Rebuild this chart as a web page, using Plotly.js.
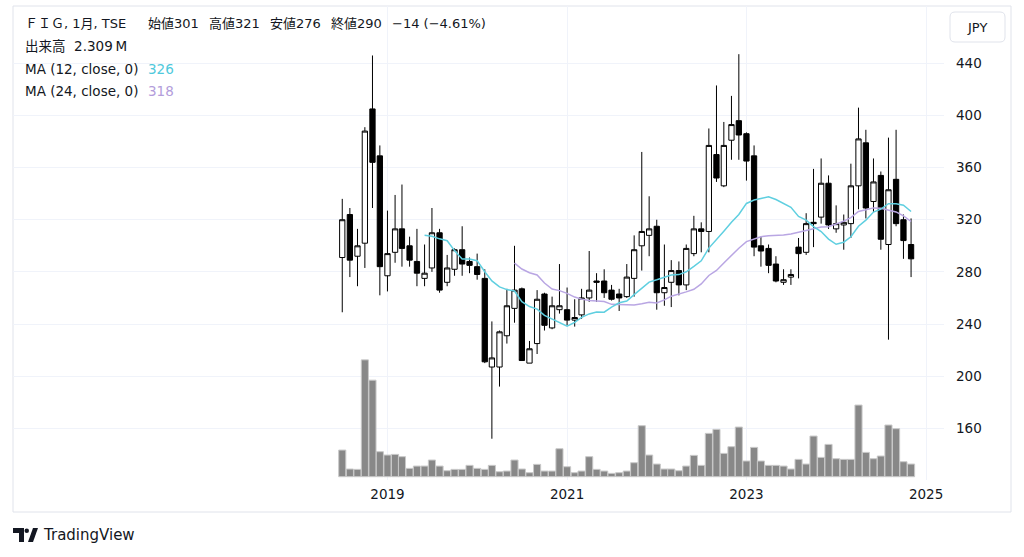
<!DOCTYPE html>
<html><head><meta charset="utf-8">
<script src="https://cdn.plot.ly/plotly-3.0.1.min.js"></script>
<style>html,body{margin:0;padding:0;background:#fff;}#chart{width:1024px;height:557px;}</style>
</head><body><div id="chart"></div>
<script>
// ---- data (monthly, FIG / TSE) ----
const months = ['2018-07','2018-08','2018-09','2018-10','2018-11','2018-12',
 '2019-01','2019-02','2019-03','2019-04','2019-05','2019-06','2019-07','2019-08','2019-09','2019-10','2019-11','2019-12',
 '2020-01','2020-02','2020-03','2020-04','2020-05','2020-06','2020-07','2020-08','2020-09','2020-10','2020-11','2020-12',
 '2021-01','2021-02','2021-03','2021-04','2021-05','2021-06','2021-07','2021-08','2021-09','2021-10','2021-11','2021-12',
 '2022-01','2022-02','2022-03','2022-04','2022-05','2022-06','2022-07','2022-08','2022-09','2022-10','2022-11','2022-12',
 '2023-01','2023-02','2023-03','2023-04','2023-05','2023-06','2023-07','2023-08','2023-09','2023-10','2023-11','2023-12',
 '2024-01','2024-02','2024-03','2024-04','2024-05','2024-06','2024-07','2024-08','2024-09','2024-10','2024-11'];
const opens  = [291,324,292,302,405,369, 277,295,313,300,288,275,283,310,272,282,297,288,
 284,275,207,207,231,252,267,210,225,263,237,251, 251,243,247,260,273,273,266,263,261,275,300,308,
 315,264,272,281,270,294,313,311,370,346,381,396, 386,369,300,298,286,272,276,299,295,318,322,348,
 313,316,317,346,379,334,354,301,351,320,301];
const highs  = [336,329,313,391,446,377, 327,339,347,307,313,301,329,313,293,298,315,291,
 294,282,242,235,267,300,268,227,266,264,261,286, 268,259,267,296,279,282,270,267,286,308,372,338,
 320,301,289,288,301,323,318,390,423,395,415,447, 387,377,307,301,292,282,282,306,325,359,367,354,
 331,324,363,406,389,367,357,383,389,324,321];
const lows   = [249,276,269,283,329,262, 265,287,284,284,269,269,280,264,269,277,277,279,
 274,210,152,192,225,241,212,210,217,235,236,248, 239,238,244,257,257,260,258,250,260,261,281,292,
 251,254,253,262,266,292,295,295,349,345,366,366, 350,292,284,279,272,270,270,275,293,299,317,313,
 310,297,306,328,321,326,297,228,315,290,276];
const closes = [320,289,300,388,364,284, 294,313,298,289,279,279,310,266,283,297,286,285,
 278,211,214,234,254,266,212,221,259,239,254,254, 243,245,260,266,272,264,259,260,276,297,311,313,
 264,268,281,270,298,313,311,377,352,377,393,385, 365,299,296,285,273,274,278,294,317,317,348,316,
 317,318,346,382,329,349,305,343,317,304,290];
const volumesM = [4.86,1.40,1.34,21.3,17.6,4.56, 3.95,4.07,3.65,1.52,1.94,1.94,3.04,1.94,1.09,1.34,1.34,2.07,
 1.52,1.34,2.07,0.91,1.03,3.04,1.40,0.73,2.25,1.03,1.03,5.10, 1.82,0.73,1.03,3.65,1.34,1.03,0.61,0.73,1.03,2.55,9.30,3.95,
 2.31,1.40,1.40,1.09,1.94,3.89,2.07,7.90,8.63,4.25,5.47,9.05, 2.86,5.35,2.86,2.07,2.07,1.94,1.40,3.16,2.31,7.41,3.52,5.89,
 3.28,3.16,3.16,13.06,4.43,3.28,3.77,9.42,8.75,2.73,2.309];
const priceTicks = [160,200,240,280,320,360,400,440];
const yearTicks = ['2019-01-01','2021-01-01','2023-01-01','2025-01-01'];
const yearLabels = ['2019','2021','2023','2025'];

// moving averages of the close
function sma(arr, n){ return arr.map((v,i)=> i<n-1 ? null : arr.slice(i-n+1,i+1).reduce((a,b)=>a+b,0)/n); }
const ma12 = sma(closes,12), ma24 = sma(closes,24);

// ---- layout geometry (pixels) ----
const L=13, R=944, T=6, B=480;
const px = x => (x-L)/(R-L);
const py = y => (B-y)/(B-T);
const FONT = '"DejaVu Sans", "Noto Sans CJK JP", sans-serif';
const FS = 13.5;
const TXT = '#131722';

const traces = [
 { type:'bar', x: months, y: volumesM, yaxis:'y2', width: months.map(()=>29*86400000),
   marker:{color:'#888888', line:{color:'#c9c9c9', width:1}}, hoverinfo:'skip', showlegend:false },
 { type:'candlestick', x: months, open: opens, high: highs, low: lows, close: closes,
   increasing:{line:{color:'#000000', width:1}, fillcolor:'#ffffff'},
   decreasing:{line:{color:'#000000', width:1}, fillcolor:'#000000'},
   whiskerwidth:0, hoverinfo:'skip', showlegend:false },
 { type:'scatter', mode:'lines', x: months, y: ma24, line:{color:'#b9a6e3', width:1.5}, hoverinfo:'skip', showlegend:false },
 { type:'scatter', mode:'lines', x: months, y: ma12, line:{color:'#5fcfe0', width:1.5}, hoverinfo:'skip', showlegend:false }
];

function ann(x, y, text, extra){
  return Object.assign({xref:'paper', yref:'paper', x:px(x), y:py(y), xanchor:'left', yanchor:'middle',
    text:text, showarrow:false, font:{family:FONT, size:FS, color:TXT}}, extra||{});
}
const HF = {font:{family:FONT, size:13, color:TXT}};
const annotations = [
 ann(23, 24, 'ＦＩＧ, 1月, TSE', HF),
 ann(146, 24, '始値301', HF),
 ann(207, 24, '高値321', HF),
 ann(268, 24, '安値276', HF),
 ann(329, 24, '終値290', HF),
 ann(390, 24, '−14 (−4.61%)', HF),
 ann(23, 46, '出来高\u00a0\u00a02.309\u2009M'),
 ann(23, 69, 'MA (12, close, 0)'),
 ann(146, 69, '326', {font:{family:FONT, size:FS, color:'#4fc9dc'}}),
 ann(23, 91, 'MA (24, close, 0)'),
 ann(146, 91, '318', {font:{family:FONT, size:FS, color:'#b39ddb'}}),
 ann(977, 27, 'JPY', {xanchor:'center', font:{family:FONT, size:13, color:TXT}}),
 ann(41, 535, 'TradingView', {font:{family:FONT, size:15, color:TXT}})
];

function rr(x0,y0,x1,y1,r){
  const P=(x,y)=>px(x)+','+py(y);
  return 'M'+P(x0+r,y0)+' L'+P(x1-r,y0)+' Q'+P(x1,y0)+' '+P(x1,y0+r)+' L'+P(x1,y1-r)+' Q'+P(x1,y1)+' '+P(x1-r,y1)+
    ' L'+P(x0+r,y1)+' Q'+P(x0,y1)+' '+P(x0,y1-r)+' L'+P(x0,y0+r)+' Q'+P(x0,y0)+' '+P(x0+r,y0)+' Z';
}
function poly(pts){ return 'M'+pts.map(p=>px(p[0])+','+py(p[1])).join(' L')+' Z'; }

const shapes = [
 {type:'rect', xref:'paper', yref:'paper', x0:px(13), x1:px(1011), y0:py(6), y1:py(512), line:{color:'#e0e3eb', width:1}, layer:'below'},
 {type:'path', xref:'paper', yref:'paper', path: rr(950,12,1005,42,5), line:{color:'#e0e3eb', width:1}, fillcolor:'#ffffff'},
 {type:'path', xref:'paper', yref:'paper', path: poly([[13,528],[24,528],[24,542],[19,542],[19,533],[13,533]]), line:{width:0}, fillcolor:TXT},
 {type:'circle', xref:'paper', yref:'paper', x0:px(24.5), x1:px(29), y0:py(528.5), y1:py(533), line:{width:0}, fillcolor:TXT},
 {type:'path', xref:'paper', yref:'paper', path: poly([[28,542],[33,528],[38,528],[33,542]]), line:{width:0}, fillcolor:TXT}
];

const layout = {
 width:1024, height:557, paper_bgcolor:'#ffffff', plot_bgcolor:'#ffffff',
 margin:{l:L, r:1024-R, t:T, b:557-B, pad:0},
 showlegend:false, hovermode:false, boxgap:0.15, boxgroupgap:0.1, bargap:0,
 font:{family:FONT, size:FS, color:TXT},
 xaxis:{type:'date', range:['2014-10-30','2025-03-15'], rangeslider:{visible:false},
   tickvals:yearTicks, ticktext:yearLabels, showgrid:true, gridcolor:'#f0f3fa', gridwidth:1,
   zeroline:false, showline:false, ticks:'', ticklabelstandoff:4, tickfont:{family:FONT, size:FS, color:TXT}},
 yaxis:{side:'right', range:[120.34,483.96], tickvals:priceTicks, showgrid:true, gridcolor:'#f0f3fa', gridwidth:1,
   zeroline:false, showline:false, ticks:'', ticklabelstandoff:11, tickfont:{family:FONT, size:FS, color:TXT}},
 yaxis2:{overlaying:'y', range:[-0.6,85.8], visible:false, showgrid:false, zeroline:false},
 annotations: annotations, shapes: shapes
};

Plotly.newPlot('chart', traces, layout, {displayModeBar:false, staticPlot:true});
</script></body></html>
